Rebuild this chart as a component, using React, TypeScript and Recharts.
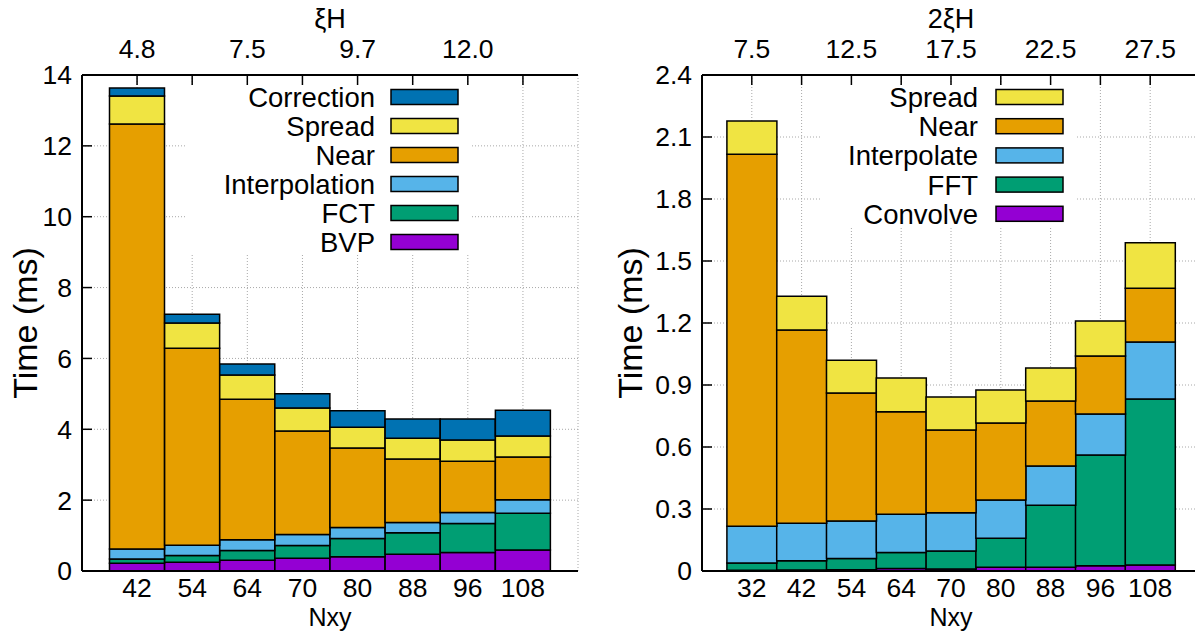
import React from "react";
import { BarChart, Bar, XAxis, YAxis, CartesianGrid } from "recharts";

// left panel: Nxy categories, xi*H on top
const leftCategories = ["42", "54", "64", "70", "80", "88", "96", "108"];
const leftTopLabels = ["4.8", "", "7.5", "", "9.7", "", "12.0", ""];
const leftBVP = [0.22, 0.25, 0.3, 0.36, 0.4, 0.47, 0.52, 0.59];
const leftFCT = [0.12, 0.19, 0.28, 0.36, 0.52, 0.61, 0.82, 1.04];
const leftInterpolation = [0.28, 0.29, 0.3, 0.31, 0.31, 0.29, 0.31, 0.38];
const leftNear = [12.0, 5.56, 3.97, 2.92, 2.24, 1.79, 1.45, 1.21];
const leftSpread = [0.79, 0.71, 0.68, 0.65, 0.59, 0.59, 0.6, 0.59];
const leftCorrection = [0.22, 0.25, 0.31, 0.4, 0.46, 0.54, 0.59, 0.73];
const leftYTicks = [0, 2, 4, 6, 8, 10, 12, 14];

// right panel
const rightCategories = ["32", "42", "54", "64", "70", "80", "88", "96", "108"];
const rightTopLabels = ["7.5", "", "12.5", "", "17.5", "", "22.5", "", "27.5"];
const rightConvolve = [0.004, 0.005, 0.006, 0.012, 0.01, 0.018, 0.018, 0.026, 0.029];
const rightFFT = [0.035, 0.045, 0.055, 0.077, 0.087, 0.14, 0.3, 0.535, 0.803];
const rightInterpolate = [0.177, 0.181, 0.181, 0.185, 0.185, 0.185, 0.19, 0.199, 0.276];
const rightNear = [1.801, 0.935, 0.619, 0.496, 0.4, 0.373, 0.314, 0.28, 0.26];
const rightSpread = [0.161, 0.164, 0.159, 0.164, 0.16, 0.16, 0.16, 0.17, 0.22];
const rightYTicks = [0, 0.3, 0.6, 0.9, 1.2, 1.5, 1.8, 2.1, 2.4];

const FONT = "'Liberation Sans', Arial, Helvetica, sans-serif";

interface Series {
  key: string;
  name: string;
  color: string;
  values: number[];
}

// stacking order bottom -> top
const leftSeries: Series[] = [
  { key: "bvp", name: "BVP", color: "#9400d3", values: leftBVP },
  { key: "fct", name: "FCT", color: "#009e73", values: leftFCT },
  { key: "interp", name: "Interpolation", color: "#56b4e9", values: leftInterpolation },
  { key: "near", name: "Near", color: "#e69f00", values: leftNear },
  { key: "spread", name: "Spread", color: "#f0e442", values: leftSpread },
  { key: "corr", name: "Correction", color: "#0072b2", values: leftCorrection },
];

const rightSeries: Series[] = [
  { key: "conv", name: "Convolve", color: "#9400d3", values: rightConvolve },
  { key: "fft", name: "FFT", color: "#009e73", values: rightFFT },
  { key: "interp", name: "Interpolate", color: "#56b4e9", values: rightInterpolate },
  { key: "near", name: "Near", color: "#e69f00", values: rightNear },
  { key: "spread", name: "Spread", color: "#f0e442", values: rightSpread },
];

interface PanelProps {
  x: number;
  width: number;
  axisWidth: number;
  marginRight: number;
  pad: number;
  categories: string[];
  topLabels: string[];
  series: Series[];
  yTicks: number[];
  yFormat: (v: number) => string;
}

const Panel: React.FC<PanelProps> = ({ x, width, axisWidth, marginRight, pad, categories, topLabels, series, yTicks, yFormat }) => {
  const data = categories.map((c, i) => {
    const row: Record<string, string | number> = { cat: c };
    series.forEach((s) => (row[s.key] = s.values[i]));
    return row;
  });
  const yMax = yTicks[yTicks.length - 1];
  const axisLine = { stroke: "#000", strokeWidth: 2 };
  const tickLine = { stroke: "#000", strokeWidth: 1.5 };
  const tickStyle = { fill: "#000", fontSize: 26.5, fontFamily: FONT };
  return (
    <div style={{ position: "absolute", left: x, top: 0, width, height: 634 }}>
      <BarChart width={width} height={634} data={data} margin={{ top: 0, right: marginRight, bottom: 0, left: 0 }} barCategoryGap={0} barGap={0}>
        <CartesianGrid stroke="#a8a8a8" strokeDasharray="1 2" />
        <XAxis dataKey="cat" height={63} padding={{ left: pad, right: pad }} interval={0} tickLine={false} tickSize={0} tickMargin={7} axisLine={axisLine} tick={tickStyle} />
        <XAxis
          xAxisId="top"
          orientation="top"
          dataKey="cat"
          height={75}
          padding={{ left: pad, right: pad }}
          interval={0}
          tickFormatter={(_v: string, i: number) => topLabels[i]}
          tickSize={-10}
          tickMargin={27}
          tickLine={tickLine}
          axisLine={axisLine}
          tick={tickStyle}
        />
        <YAxis type="number" domain={[0, yMax]} ticks={yTicks} width={axisWidth} interval={0} tickFormatter={yFormat} tickSize={-10} tickMargin={20} tickLine={tickLine} axisLine={axisLine} tick={tickStyle} />
        <YAxis yAxisId="r" orientation="right" type="number" domain={[0, yMax]} ticks={yTicks} width={0} tick={false} tickSize={-10} tickLine={tickLine} axisLine={axisLine} />
        {series.map((s) => (
          <Bar key={s.key} dataKey={s.key} name={s.name} stackId="a" fill={s.color} stroke="#000" strokeWidth={1.5} isAnimationActive={false} />
        ))}
      </BarChart>
    </div>
  );
};

interface LegendProps {
  series: Series[];
  box: { x: number; y: number; w: number; h: number };
  textRight: number;
  swatchLeft: number;
  firstRow: number;
  rowGap: number;
}

const KeyBox: React.FC<LegendProps> = ({ series, box, textRight, swatchLeft, firstRow, rowGap }) => {
  const items = [...series].reverse();
  return (
    <g>
      <rect x={box.x} y={box.y} width={box.w} height={box.h} fill="#fff" />
      {items.map((s, i) => {
        const cy = firstRow + i * rowGap;
        return (
          <g key={s.key}>
            <text x={textRight} y={cy + 10} textAnchor="end" fontSize={27.5} fontFamily={FONT} fill="#000">
              {s.name}
            </text>
            <rect x={swatchLeft} y={cy - 7.5} width={67} height={15} fill={s.color} stroke="#000" strokeWidth={1.5} />
          </g>
        );
      })}
    </g>
  );
};

export default function App() {
  return (
    <div style={{ position: "absolute", left: 0, top: 0, width: 1195, height: 634, overflow: "hidden", background: "#fff" }}>
      <Panel
        x={0}
        width={600}
        axisWidth={82}
        marginRight={22}
        pad={27.5}
        categories={leftCategories}
        topLabels={leftTopLabels}
        series={leftSeries}
        yTicks={leftYTicks}
        yFormat={(v) => String(v)}
      />
      <Panel
        x={600}
        width={620}
        axisWidth={102}
        marginRight={20}
        pad={24.9}
        categories={rightCategories}
        topLabels={rightTopLabels}
        series={rightSeries}
        yTicks={rightYTicks}
        yFormat={(v) => (v === 0 ? "0" : v.toFixed(1))}
      />
      <svg width={1195} height={634} style={{ position: "absolute", left: 0, top: 0, pointerEvents: "none" }}>
        <KeyBox series={leftSeries} box={{ x: 187, y: 86, w: 285, h: 169 }} textRight={375} swatchLeft={391} firstRow={97} rowGap={29} />
        <KeyBox series={rightSeries} box={{ x: 820, y: 86, w: 257, h: 142 }} textRight={978} swatchLeft={996} firstRow={97} rowGap={29.2} />
        <g fontFamily={FONT} fill="#000">
          <text x={330} y={28} fontSize={27} textAnchor="middle">ξH</text>
          <text x={951} y={28} fontSize={27} textAnchor="middle">2ξH</text>
          <text x={330} y={626} fontSize={25} textAnchor="middle">Nxy</text>
          <text x={951} y={626} fontSize={25} textAnchor="middle">Nxy</text>
          <text transform="translate(37,323) rotate(-90)" fontSize={34} textAnchor="middle">Time (ms)</text>
          <text transform="translate(642,323) rotate(-90)" fontSize={34} textAnchor="middle">Time (ms)</text>
        </g>
      </svg>
    </div>
  );
}
